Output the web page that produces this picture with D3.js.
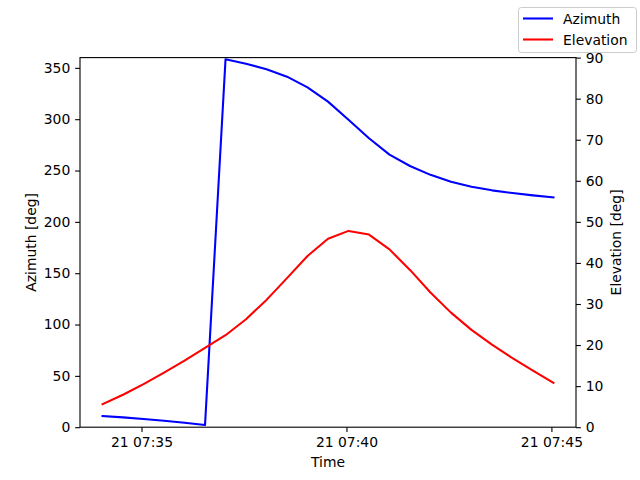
<!DOCTYPE html>
<html>
<head>
<meta charset="utf-8">
<script src="https://cdn.jsdelivr.net/npm/d3@7"></script>
<style>
html,body{margin:0;padding:0;background:#fff;}
svg{display:block;font-family:"DejaVu Sans",sans-serif;}
</style>
</head>
<body>
<svg id="chart" width="640" height="480"></svg>
<script>
const times = ["07:34:03","07:34:33","07:35:03","07:35:33","07:36:03","07:36:33","07:37:03","07:37:33",
  "07:38:03","07:38:33","07:39:03","07:39:33","07:40:03","07:40:33","07:41:03","07:41:33",
  "07:42:03","07:42:33","07:43:03","07:43:33","07:44:03","07:44:33","07:45:03"];
const azimuth = [10.9, 9.6, 8.0, 6.2, 4.3, 2.1, 358.3, 354.1, 348.6, 341.4, 331.0, 317.1,
  299.5, 281.5, 265.5, 254.4, 245.8, 239.1, 234.3, 230.7, 228.1, 225.8, 223.9];
const elevation = [5.6, 7.9, 10.5, 13.3, 16.2, 19.3, 22.4, 26.3, 31.0, 36.3, 41.7, 45.9,
  47.8, 46.9, 43.3, 38.3, 32.8, 27.9, 23.7, 20.1, 16.8, 13.8, 10.8];
const azTicks = [0, 50, 100, 150, 200, 250, 300, 350];
const elTicks = [0, 10, 20, 30, 40, 50, 60, 70, 80, 90];
const day = "2024-01-21";

const parse = d3.utcParse("%Y-%m-%d %H:%M:%S");
const dates = times.map(t => parse(day + " " + t));

const W = 640, H = 480;
const L = 80, R = 576, T = 57.6, B = 427.2;
const svg = d3.select("#chart");
const fs = 13.9;

const t0 = dates[0], t1 = dates[dates.length - 1];
const span = t1 - t0;
const x = d3.scaleUtc().domain([new Date(+t0 - 0.05 * span), new Date(+t1 + 0.05 * span)]).range([L, R]);
const yA = d3.scaleLinear().domain([0, 360]).range([B, T]);
const yE = d3.scaleLinear().domain([0, 90]).range([B, T]);

const g = svg.append("g");

// lines
const lineA = d3.line().x((d, i) => x(dates[i])).y(d => yA(d));
const lineE = d3.line().x((d, i) => x(dates[i])).y(d => yE(d));
g.append("path").datum(azimuth).attr("d", lineA).attr("fill", "none")
  .attr("stroke", "#0000ff").attr("stroke-width", 2.08).attr("stroke-linejoin", "round").attr("stroke-linecap", "square");
g.append("path").datum(elevation).attr("d", lineE).attr("fill", "none")
  .attr("stroke", "#ff0000").attr("stroke-width", 2.08).attr("stroke-linejoin", "round").attr("stroke-linecap", "square");

// frame
g.append("rect").attr("x", L).attr("y", T).attr("width", R - L).attr("height", B - T)
  .attr("fill", "none").attr("stroke", "#000").attr("stroke-width", 1.1);

function styleAxis(sel) {
  sel.select(".domain").remove();
  sel.selectAll(".tick line").attr("stroke", "#000").attr("stroke-width", 1.1);
  sel.selectAll(".tick text").attr("font-size", fs).attr("fill", "#000").attr("font-family", "DejaVu Sans");
}

const xAxis = d3.axisBottom(x).ticks(d3.utcMinute.every(5)).tickFormat(d3.utcFormat("%d %H:%M"))
  .tickSizeInner(4.86).tickSizeOuter(0).tickPadding(4.86);
svg.append("g").attr("transform", `translate(0,${B})`).call(xAxis).call(styleAxis);

const aAxis = d3.axisLeft(yA).tickValues(azTicks).tickSizeInner(4.86).tickSizeOuter(0).tickPadding(4.86);
svg.append("g").attr("transform", `translate(${L},0)`).call(aAxis).call(styleAxis);

const eAxis = d3.axisRight(yE).tickValues(elTicks).tickSizeInner(4.86).tickSizeOuter(0).tickPadding(4.86);
svg.append("g").attr("transform", `translate(${R},0)`).call(eAxis).call(styleAxis);

// axis labels
svg.append("text").attr("x", (L + R) / 2).attr("y", 467).attr("text-anchor", "middle")
  .attr("font-size", fs).text("Time");
svg.append("text").attr("transform", `translate(36.3,${(T + B) / 2}) rotate(-90)`).attr("text-anchor", "middle")
  .attr("font-size", fs).text("Azimuth [deg]");
svg.append("text").attr("transform", `translate(621,${(T + B) / 2}) rotate(-90)`).attr("text-anchor", "middle")
  .attr("font-size", fs).text("Elevation [deg]");

// legend
const lg = svg.append("g");
lg.append("rect").attr("x", 518.5).attr("y", 7.5).attr("width", 118).attr("height", 45)
  .attr("rx", 2.8).attr("fill", "#fff").attr("fill-opacity", 0.8).attr("stroke", "#cccccc").attr("stroke-width", 1);
const items = [["Azimuth", "#0000ff"], ["Elevation", "#ff0000"]];
items.forEach((it, i) => {
  const cy = 18.5 + i * 21;
  lg.append("line").attr("x1", 523).attr("x2", 553).attr("y1", cy).attr("y2", cy)
    .attr("stroke", it[1]).attr("stroke-width", 2.08);
  lg.append("text").attr("x", 563).attr("y", cy + 5).attr("font-size", fs).text(it[0]);
});
</script>
</body>
</html>
